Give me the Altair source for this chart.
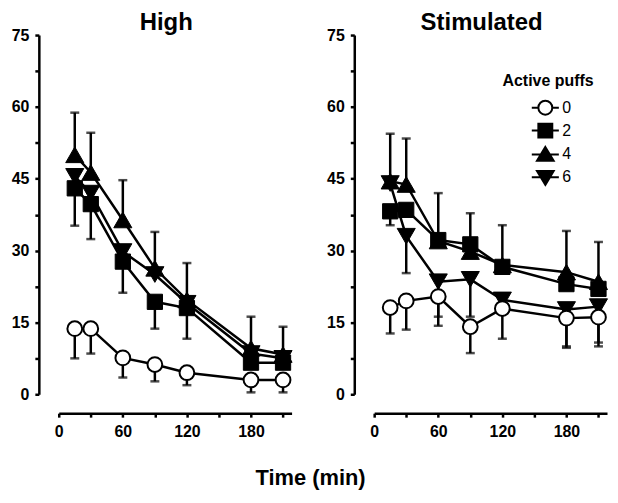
import altair as alt
import pandas as pd

# ---------------- data ----------------
times = [15, 30, 60, 90, 120, 180, 210]
puff_levels = ["0", "2", "4", "6"]

# High panel: means and SEM (direction of the drawn half-bar per series)
high_0 = [13.7, 13.7, 7.6, 6.2, 4.5, 3.0, 3.0]
high_0_err = [6.2, 5.2, 4.1, 3.5, 2.6, 2.6, 2.6]
high_2 = [43.0, 39.7, 27.7, 19.3, 18.0, 6.6, 6.6]
high_2_err = [7.8, 7.3, 6.5, 5.6, 6.4, 0, 0]
high_4 = [50.0, 46.3, 36.4, 26.3, 19.7, 9.6, 8.3]
high_4_err = [8.8, 8.3, 8.3, 7.6, 7.7, 6.6, 5.8]
high_6 = [45.5, 42.0, 29.8, 25.0, 19.0, 8.5, 7.5]
high_6_err = [0, 0, 0, 0, 0, 0, 0]

# Stimulated panel
stim_0 = [18.1, 19.5, 20.4, 14.1, 17.9, 15.9, 16.1]
stim_0_err = [5.4, 6.0, 6.1, 5.5, 6.3, 5.9, 6.1]
stim_2 = [38.2, 38.5, 32.2, 31.3, 26.6, 23.0, 22.0]
stim_2_err = [2.9, 0, 0, 0, 0, 0, 0]
stim_4 = [44.5, 43.8, 32.0, 29.8, 27.0, 25.5, 23.5]
stim_4_err = [9.9, 9.6, 10.0, 8.0, 8.3, 8.6, 8.3]
stim_6 = [44.0, 33.0, 23.5, 24.0, 19.7, 17.7, 18.3]
stim_6_err = [0, 7.7, 7.3, 7.8, 0, 8.0, 7.5]

err_direction = {"0": -1, "2": -1, "4": 1, "6": -1}

high_series = {"0": (high_0, high_0_err), "2": (high_2, high_2_err),
               "4": (high_4, high_4_err), "6": (high_6, high_6_err)}
stim_series = {"0": (stim_0, stim_0_err), "2": (stim_2, stim_2_err),
               "4": (stim_4, stim_4_err), "6": (stim_6, stim_6_err)}


def to_frame(series):
    rows = []
    for p in puff_levels:
        means, errs = series[p]
        for t, m, e in zip(times, means, errs):
            cap = m + err_direction[p] * e
            rows.append({"puffs": p, "time": t, "mean": m, "err": e,
                         "lo": min(m, cap), "hi": max(m, cap), "cap": cap})
    return pd.DataFrame(rows)


FONT = "Liberation Sans"

marker_style = {
    "0": dict(shape="circle", fill="white", stroke="black", strokeWidth=2, size=220),
    "2": dict(shape="square", fill="black", stroke="black", strokeWidth=1, size=235),
    "4": dict(shape="triangle-up", fill="black", stroke="black", strokeWidth=1, size=330),
    "6": dict(shape="triangle-down", fill="black", stroke="black", strokeWidth=1, size=330),
}
draw_order = ["6", "4", "2", "0"]

legend_paths = [
    "M-1.7,0H-0.875M0.875,0H1.7M0.875,0A0.875,0.875 0 1,1 -0.875,0A0.875,0.875 0 1,1 0.875,0Z",
    "M-1.7,0H1.7M-0.875,-0.875H0.875V0.875H-0.875Z",
    "M-1.7,0H1.7M0,-0.95L1.05,0.8H-1.05Z",
    "M-1.7,0H1.7M0,0.95L1.05,-0.8H-1.05Z",
]

y_axis = alt.Axis(values=[i * 7.5 for i in range(11)],
                  labelExpr="datum.value % 15 === 0 ? datum.label : ''",
                  title=None, offset=20, labelPadding=6, grid=False)
x_axis = alt.Axis(values=[i * 30 for i in range(8)],
                  labelExpr="datum.value % 60 === 0 ? datum.label : ''",
                  title=None, offset=19, labelPadding=6, grid=False,
                  labelFlush=False, labelOverlap=False)

x_scale = alt.Scale(domain=[0, 218], nice=False, zero=False)
y_scale = alt.Scale(domain=[0, 75], nice=False)


def make_panel(df, title, with_legend):
    base = alt.Chart(df)
    X = alt.X("time:Q", scale=x_scale, axis=x_axis)
    errs = base.transform_filter("datum.err > 0")
    rules = errs.mark_rule(color="black", strokeWidth=2.5).encode(
        x=X, y=alt.Y("lo:Q", scale=y_scale, axis=y_axis), y2="hi:Q")
    caps = errs.mark_tick(orient="horizontal", color="black", size=9, thickness=2.5).encode(
        x=X, y=alt.Y("cap:Q", scale=y_scale, axis=y_axis))
    layer_lines = []
    for p in draw_order:
        layer_lines.append(
            base.transform_filter(f"datum.puffs == '{p}'").mark_line(color="black", strokeWidth=2.5).encode(
                x=X, y=alt.Y("mean:Q", scale=y_scale, axis=y_axis), order="time:Q"))
    pts = []
    for p in draw_order:
        st = marker_style[p]
        pts.append(base.transform_filter(f"datum.puffs == '{p}'").mark_point(
            filled=True, opacity=1, fillOpacity=1, **st).encode(
            x=X, y=alt.Y("mean:Q", scale=y_scale, axis=y_axis)))
    layers = [rules, caps] + layer_lines + pts
    if with_legend:
        leg = alt.Legend(title="Active puffs", orient="none", legendX=129, legendY=38,
                         titleFont=FONT, titleFontSize=16, titleFontWeight="bold",
                         titleColor="black", labelFont=FONT, labelFontSize=16,
                         labelColor="black", symbolSize=256, symbolStrokeColor="black",
                         symbolStrokeWidth=2, symbolOpacity=1, labelOffset=8,
                         rowPadding=1, titlePadding=10, symbolOffset=34)
        legend_layer = base.mark_point(opacity=0, stroke="black").encode(
            x=X, y=alt.Y("mean:Q", scale=y_scale, axis=y_axis),
            shape=alt.Shape("puffs:N", scale=alt.Scale(domain=puff_levels, range=legend_paths), legend=leg),
            fill=alt.Fill("puffs:N", scale=alt.Scale(domain=puff_levels,
                                                      range=["white", "black", "black", "black"]), legend=leg),
            stroke=alt.Stroke("puffs:N", scale=alt.Scale(domain=puff_levels,
                                                          range=["black", "black", "black", "black"]), legend=leg))
        layers.append(legend_layer)
    return alt.layer(*layers).properties(
        width=234, height=361,
        title=alt.Title(title, font=FONT, fontSize=24, fontWeight="bold", color="black",
                        anchor="middle", dx=-9, offset=-8))


left = make_panel(to_frame(high_series), "High", False)
right = make_panel(to_frame(stim_series), "Stimulated", True)

chart = alt.hconcat(left, right, spacing=32).resolve_scale(
    shape="independent", fill="independent", stroke="independent").properties(
    title=alt.Title("Time (min)", orient="bottom", anchor="middle", font=FONT, fontSize=22,
                    fontWeight="bold", color="black", offset=29),
    padding={"left": 3, "top": 2, "right": 0, "bottom": 0},
).configure_view(stroke=None).configure_axis(
    domainColor="black", domainWidth=2.5, tickColor="black", tickWidth=2.5, tickSize=4,
    labelFont=FONT, labelFontSize=16, labelFontWeight="bold", labelColor="black",
)

chart.save("out.html", embed_options={"renderer": "svg", "actions": False})
